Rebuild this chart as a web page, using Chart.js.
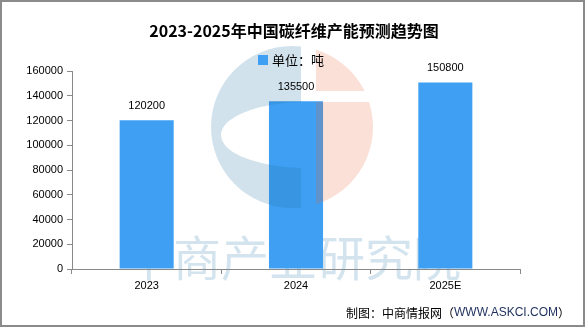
<!DOCTYPE html>
<html lang="zh-CN">
<head>
    <meta charset="UTF-8">
    <title>2023-2025年中国碳纤维产能预测趋势图</title>
    <script src="https://cdn.jsdelivr.net/npm/chart.js"></script>
    <style>
        html, body { margin: 0; padding: 0; background: #fff; }
        canvas { display: block; }
    </style>
</head>
<body>
<canvas id="capacity-chart" width="585" height="327"></canvas>

<script>
    // Data
    const years = ['2023', '2024', '2025E'];
    const capacity = [120200, 135500, 150800];
    const yMax = 160000;
    const yStep = 20000;

    const barColor = '#3f9ff3';
    const axisColor = '#898989';
    const cjkFont = '"Noto Sans CJK SC", "Noto Sans", sans-serif';
    const numFont = '"Liberation Sans", Arial, sans-serif';

    // Watermark, logo, value labels, title, legend, footer and frame
    const decor = {
        id: 'decor',
        beforeDraw(chart) {
            const ctx = chart.ctx;
            ctx.save();
            ctx.fillStyle = '#fff';
            ctx.fillRect(0, 0, chart.width, chart.height);
            ctx.font = '48px ' + cjkFont;
            ctx.fillStyle = '#d3e4ef';
            ctx.textAlign = 'center';
            ctx.textBaseline = 'middle';
            ctx.fillText('中商产业研究院', 293, 258);
            ctx.restore();
        },
        afterDatasetsDraw(chart) {
            const ctx = chart.ctx;
            const cx = 292, cy = 127, r = 81;

            // logo, semi-transparent over the bars
            ctx.save();
            ctx.globalAlpha = 0.2;
            ctx.save();
            ctx.beginPath();
            ctx.rect(cx - r - 2, cy - r - 2, 301 - (cx - r - 2), 2 * r + 4);
            ctx.clip();
            ctx.beginPath();
            ctx.arc(cx, cy, r, 0, Math.PI * 2);
            ctx.ellipse(306, 135, 85, 33, 0, 0, Math.PI * 2);
            ctx.fillStyle = 'rgb(30,110,160)';
            ctx.fill('evenodd');
            ctx.restore();

            ctx.save();
            ctx.beginPath();
            ctx.rect(316, cy - r - 2, r + 10, 91 - (cy - r - 2));
            ctx.rect(316, 102, r + 10, cy + r + 2 - 102);
            ctx.clip();
            ctx.beginPath();
            ctx.arc(cx, cy, r, 0, Math.PI * 2);
            ctx.fillStyle = 'rgb(230,100,50)';
            ctx.fill();
            ctx.restore();
            ctx.restore();

            // value labels above bars
            ctx.save();
            ctx.font = '11px ' + numFont;
            ctx.fillStyle = '#000';
            ctx.textAlign = 'center';
            ctx.textBaseline = 'middle';
            chart.getDatasetMeta(0).data.forEach((bar, i) => {
                ctx.fillText(String(capacity[i]), bar.x, bar.y - 14);
            });
            ctx.restore();
        },
        afterDraw(chart) {
            const ctx = chart.ctx;
            ctx.save();

            // title
            ctx.fillStyle = '#000';
            ctx.textAlign = 'center';
            ctx.textBaseline = 'middle';
            ctx.font = 'bold 16px ' + cjkFont;
            ctx.fillText('2023-2025年中国碳纤维产能预测趋势图', 294, 31);

            // legend
            ctx.fillStyle = barColor;
            ctx.fillRect(258, 55, 10, 10);
            ctx.fillStyle = '#000';
            ctx.textAlign = 'left';
            ctx.font = '13px ' + cjkFont;
            ctx.fillText('单位：吨', 272, 60);

            // footer
            const parts = [
                ['制图：中商情报网（', '#000', '12px ' + cjkFont],
                ['WWW.ASKCI.COM', '#1d2f5e', '12px ' + numFont],
                ['）', '#000', '12px ' + cjkFont]
            ];
            let total = 0;
            parts.forEach(p => { ctx.font = p[2]; total += ctx.measureText(p[0]).width; });
            let x = 570 - total;
            parts.forEach(p => {
                ctx.font = p[2];
                ctx.fillStyle = p[1];
                ctx.fillText(p[0], x, 313);
                x += ctx.measureText(p[0]).width;
            });

            // frame
            ctx.strokeStyle = '#8b8b8b';
            ctx.lineWidth = 2;
            ctx.strokeRect(1, 1, chart.width - 2, chart.height - 2);
            ctx.restore();
        }
    };

    const ctx = document.getElementById('capacity-chart').getContext('2d');
    const capacityChart = new Chart(ctx, {
        type: 'bar',
        data: {
            labels: years,
            datasets: [{
                label: '单位：吨',
                data: capacity,
                backgroundColor: barColor,
                borderWidth: 0,
                categoryPercentage: 1,
                barPercentage: 0.362
            }]
        },
        options: {
            responsive: false,
            animation: false,
            devicePixelRatio: 1,
            layout: { padding: { top: 71, right: 65, bottom: 0, left: 0 } },
            plugins: {
                legend: { display: false },
                title: { display: false },
                tooltip: { enabled: false }
            },
            scales: {
                x: {
                    grid: { drawOnChartArea: false, tickLength: 5, color: axisColor, offset: true },
                    border: { color: axisColor },
                    ticks: { padding: 5, color: '#000', font: { size: 11, family: numFont } },
                    afterFit: scale => { scale.height = 58; }
                },
                y: {
                    min: 0,
                    max: yMax,
                    grid: { drawOnChartArea: false, tickLength: 5, color: axisColor },
                    border: { color: axisColor },
                    ticks: {
                        stepSize: yStep,
                        padding: 4,
                        color: '#000',
                        font: { size: 11, family: numFont },
                        callback: v => String(v)
                    },
                    afterFit: scale => { scale.width = 72; }
                }
            }
        },
        plugins: [decor]
    });
</script>
</body>
</html>
